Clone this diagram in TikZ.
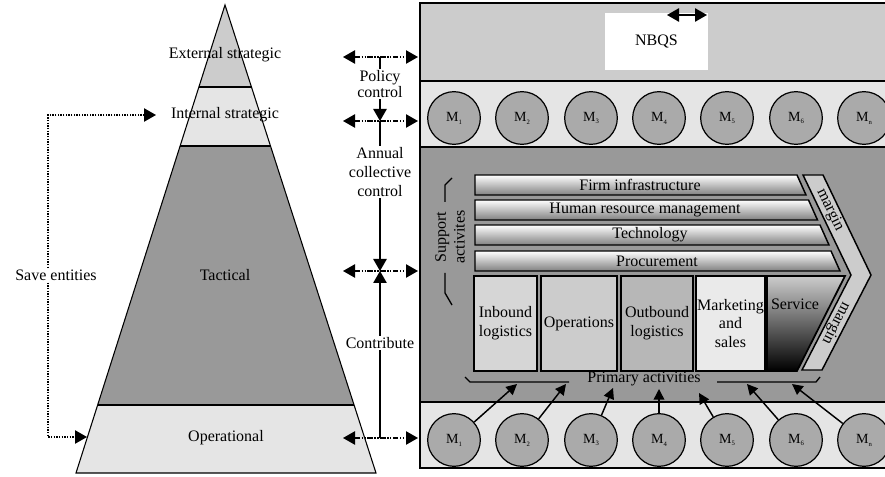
\documentclass[tikz,border=0pt]{standalone}
\usepackage{fontspec}
\setmainfont{Liberation Serif}
\usetikzlibrary{arrows.meta}

\definecolor{bandlight}{RGB}{229,229,229}
\definecolor{bandmid}{RGB}{204,204,204}
\definecolor{banddark}{RGB}{153,153,153}
\definecolor{circgray}{RGB}{170,170,170}

\newcommand{\mlab}[1]{M\raisebox{-0.45ex}{\fontsize{5}{5}\selectfont #1}}

\tikzset{
  bigtip/.style={-{Triangle[length=9pt,width=10pt]}},
  bigtips/.style={{Triangle[length=9pt,width=10pt]}-{Triangle[length=9pt,width=10pt]}},
  smalltip/.style={-{Triangle[length=8pt,width=8pt]}},
  dashdots/.style={line width=1pt,dash pattern=on 4pt off 1.2pt on 1pt off 1.2pt on 1pt off 1.2pt},
  dotline/.style={line width=1pt,densely dotted},
  mnode/.style={circle,draw,line width=0.9pt,fill=circgray,minimum size=39.5pt,inner sep=0pt,font=\fontsize{10.5}{12}\selectfont},
  barbox/.style={draw,line width=1.1pt,top color=white,bottom color=black!50},
  primbox/.style={draw,line width=1.3pt,inner sep=0pt,align=center,font=\fontsize{12}{14}\selectfont},
  lbl/.style={font=\fontsize{12}{14}\selectfont,align=center,inner sep=1pt},
}

\begin{document}
\begin{tikzpicture}[x=0.75pt,y=0.75pt,yscale=-1]
\useasboundingbox (0,0) rectangle (885,477);

%Shape: Pyramid bands
\fill[bandmid] (225,5) -- (198.9,87) -- (251.5,87) -- cycle;
\fill[bandlight] (198.9,87) -- (180.1,146) -- (270.5,146) -- (251.5,87) -- cycle;
\fill[banddark] (180.1,146) -- (97.6,405) -- (354,405) -- (270.5,146) -- cycle;
\fill[bandlight] (97.6,405) -- (76,473) -- (376,473) -- (354,405) -- cycle;
\draw[line width=0.8pt] (225,5) -- (76,473) -- (376,473) -- cycle;
\draw[line width=1.2pt] (198.9,87) -- (251.5,87) (180.1,146) -- (270.5,146) (97.6,405) -- (354,405);

% Text Node
\node[lbl] (ext) at (225,55) {External strategic};
\node[lbl] (int) at (225,115) {Internal strategic};
\node[lbl] (tac) at (225,275) {Tactical};
\node[lbl] (ope) at (226,438) {Operational};

%Straight Lines: save entities
\coordinate (se1) at (156,115);
\coordinate (secorner) at (48,115);
\coordinate (se2) at (87,437);
\draw[dotline,bigtips] (se1) -- (secorner) |- (se2);
\node[lbl,fill=white] (save) at (56,275) {Save entities};

%Shape: right panel
\draw[line width=1.2pt,fill=bandmid] (420,3) rectangle (892,81);
\draw[line width=1.2pt,fill=bandlight] (420,81) rectangle (892,147);
\draw[line width=1.2pt,fill=banddark] (420,147) rectangle (892,402);
\draw[line width=1.2pt,fill=bandlight] (420,402) rectangle (892,468);

% NBQS
\node[fill=white,minimum width=77pt,minimum height=43pt,lbl] (nbqs) at (656.5,41.5) {NBQS};
\coordinate (nq1) at (667,15);
\coordinate (nq2) at (707,15);
\draw[line width=1.2pt,bigtips] (nq1) -- (nq2);

%Straight Lines: control column
\coordinate (c1) at (380,57);
\coordinate (c2) at (380,121);
\coordinate (c3) at (380,271);
\coordinate (c4) at (380,438);
\draw[line width=1.2pt,bigtip] (c1) -- node[pos=0.42,lbl,fill=white,font=\fontsize{12}{11.5}\selectfont] (pol) {Policy\\control} (c2);
\draw[line width=1.2pt,bigtip] (c2) -- node[pos=0.34,lbl,fill=white] (ann) {Annual\\collective\\control} (c3);
\draw[line width=1.2pt,bigtip] (c4) -- node[pos=0.57,lbl,fill=white] (con) {Contribute} (c3);
\foreach \i/\y in {1/57,2/121,3/271,4/438}{
  \coordinate (hl\i) at (343,\y);
  \coordinate (hr\i) at (418,\y);
  \draw[dashdots,bigtips] (hl\i) -- (hr\i);
}

% M circles
\foreach \i/\x/\s in {1/454/1,2/522/2,3/591/3,4/659/4,5/727/5,6/796/6,7/864/n}{
  \node[mnode] (mt\i) at (\x,118) {\mlab{\s}};
  \node[mnode] (mb\i) at (\x,440) {\mlab{\s}};
}

%Shape: support bars
\draw[barbox] (475,175) -- (797,175) -- (806,195) -- (475,195) -- cycle;
\draw[barbox] (475,200) -- (808.5,200) -- (817.5,220) -- (475,220) -- cycle;
\draw[barbox] (475,225) -- (820,225) -- (829,245) -- (475,245) -- cycle;
\draw[barbox] (475,251) -- (831,251) -- (840,271) -- (475,271) -- cycle;
\node[lbl] (firm) at (640,185) {Firm infrastructure};
\node[lbl] (hrm) at (645,210) {Human resource management};
\node[lbl] (tech) at (650,235) {Technology};
\node[lbl] (proc) at (657,261) {Procurement};

%Shape: margin chevron
\draw[line width=1.1pt,fill=bandmid] (803,175) -- (823,175) -- (871,275) -- (822,370) -- (802,370) -- (851,275) -- cycle;
\node[lbl,rotate=-64.4] (mar1) at (830,210) {margin};
\node[lbl,rotate=-117.3] (mar2) at (836,323) {margin};

%Shape: primary activities
\node[primbox,fill=bandmid!80,minimum width=47pt,minimum height=71pt] (inb) at (505.5,323.5) {Inbound\\logistics};
\node[primbox,fill=bandmid,minimum width=57pt,minimum height=71pt] (oper) at (579,323.5) {Operations};
\node[primbox,fill=circgray!85,minimum width=54pt,minimum height=71pt] (outb) at (657,323.5) {Outbound\\logistics};
\node[primbox,fill=bandlight!80,minimum width=51.75pt,minimum height=71pt] (mark) at (730.5,323.5) {Marketing\\and\\sales};
\draw[line width=1.3pt,top color=gray!40,bottom color=black] (767,276) -- (845,276) -- (797,371) -- (767,371) -- cycle;
\node[lbl] (serv) at (795,304) {Service};

% Brackets
\draw[line width=1pt] (452,178) -- (445,185) -- (445,202);
\draw[line width=1pt] (445,273) -- (445,293) -- (452,305);
\node[lbl,rotate=90] (supp) at (450,237) {Support\\activites};
\draw[line width=1pt] (465,377) -- (470,382) -- (569,382);
\draw[line width=1pt] (717,382) -- (816,382) -- (820,377);
\node[lbl] (prim) at (644,379) {Primary activities};

%Straight Lines: circles to primary activities
\foreach \i/\x/\y in {1/517/384,2/566/384,3/613/388,4/659/389,5/699/393,6/747/384,7/792/384}{
  \coordinate (t\i) at (\x,\y);
  \draw[line width=1.1pt,smalltip] (mb\i) -- (t\i);
}

\end{tikzpicture}
\end{document}
